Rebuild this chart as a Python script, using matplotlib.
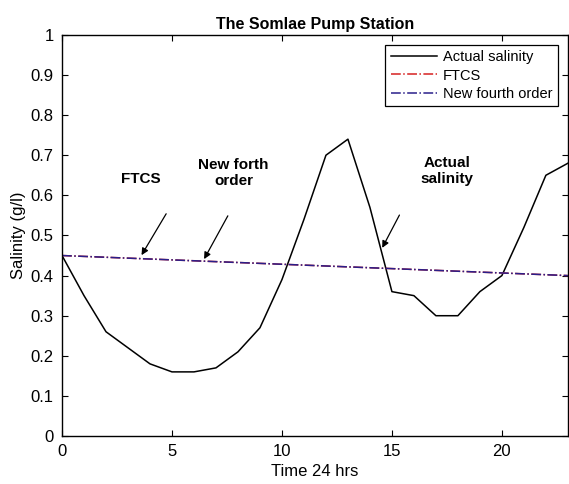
import matplotlib
matplotlib.use("Agg")
import matplotlib.pyplot as plt
import numpy as np

# hourly data
hours = list(range(24))
actual = [0.45, 0.35, 0.26, 0.22, 0.18, 0.16, 0.16, 0.17, 0.21, 0.27, 0.39, 0.54,
          0.70, 0.74, 0.57, 0.36, 0.35, 0.30, 0.30, 0.36, 0.40, 0.52, 0.65, 0.68]
ftcs = [0.45 - 0.05 * h / 23 for h in hours]
fourth = [0.45 - 0.05 * h / 23 for h in hours]

# annotations: (label, text x, text y, arrow tail x, y, head x, y)
notes = [
    ("FTCS", 3.6, 0.64, 4.8, 0.56, 3.55, 0.445),
    ("New forth\norder", 7.8, 0.655, 7.6, 0.555, 6.4, 0.435),
    ("Actual\nsalinity", 17.5, 0.66, 15.4, 0.557, 14.5, 0.463),
]

plt.rcParams['font.family'] = ['Liberation Sans', 'DejaVu Sans']

fig = plt.figure(figsize=(5.69, 4.84), dpi=100)
ax = fig.add_axes([0.109, 0.099, 0.889, 0.829])

ax.plot(hours, actual, color='black', lw=1.1, label='Actual salinity')
ax.plot(hours, ftcs, color='#d62020', lw=1.1, ls='-.', label='FTCS')
ax.plot(hours, fourth, color='#2a1f8a', lw=1.1, ls='-.', label='New fourth order')

for txt, tx, ty, x0, y0, x1, y1 in notes:
    ax.text(tx, ty, txt, ha='center', va='center', fontsize=11, fontweight='bold')
    ax.annotate('', xy=(x1, y1), xytext=(x0, y0),
                arrowprops=dict(arrowstyle='-|>', color='black', lw=0.9,
                                mutation_scale=10))

ax.set_xlim(0, 23)
ax.set_ylim(0, 1)
ax.set_xticks([0, 5, 10, 15, 20])
ax.set_yticks(np.arange(0, 1.01, 0.1))
ax.set_yticklabels(['0', '0.1', '0.2', '0.3', '0.4', '0.5', '0.6', '0.7', '0.8', '0.9', '1'])
ax.tick_params(direction='in', labelsize=12, length=4, pad=6, top=True, right=True)
for s in ax.spines.values():
    s.set_linewidth(1.0)

ax.set_title('The Somlae Pump Station', fontsize=11.5, fontweight='bold', pad=4)
ax.set_xlabel('Time 24 hrs', fontsize=12, labelpad=3)
ax.set_ylabel('Salinity (g/l)', fontsize=12, labelpad=3)

leg = ax.legend(loc='upper right', fontsize=10.5, frameon=True, fancybox=False,
                edgecolor='black', framealpha=1, borderpad=0.35, labelspacing=0.3,
                handlelength=3.2, handletextpad=0.4, borderaxespad=0.7)
leg.get_frame().set_linewidth(0.9)

fig.savefig('out.png', dpi=100)
